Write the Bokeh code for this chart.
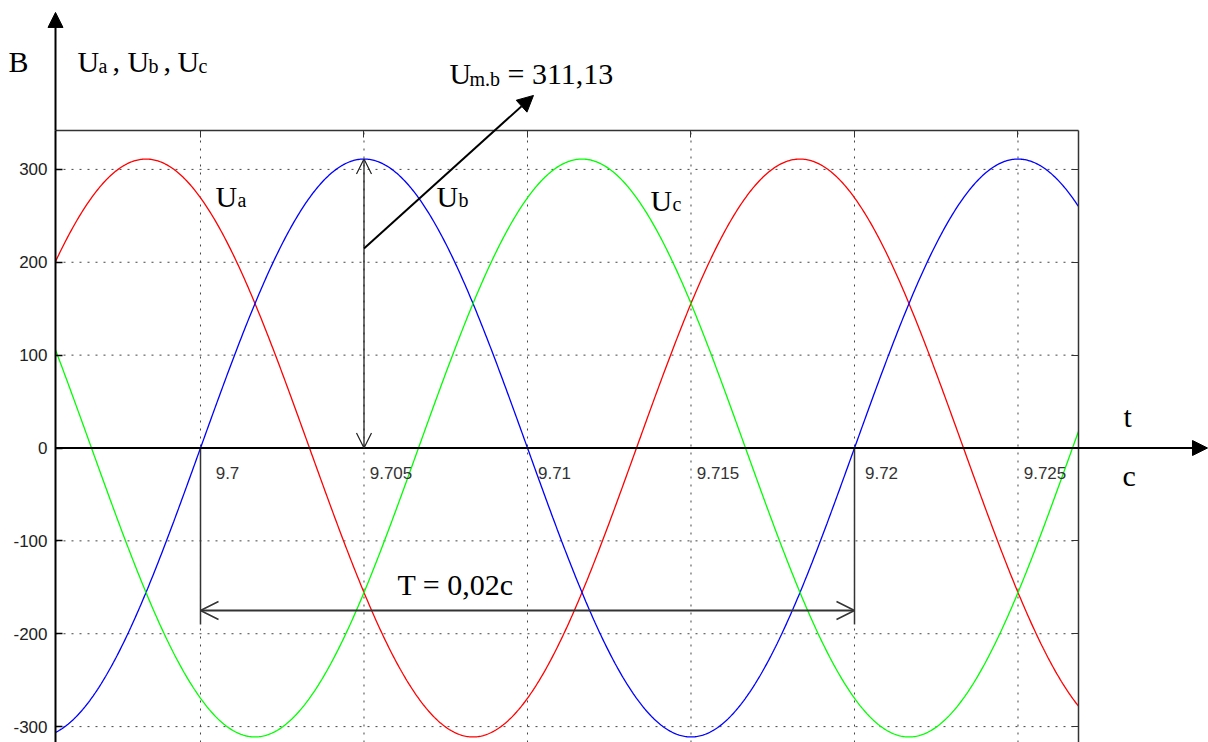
import numpy as np
from bokeh.plotting import figure
from bokeh.models import (Range1d, LinearAxis, FixedTicker, Arrow,
                          NormalHead, OpenHead, Label)
from bokeh.core.properties import value
from bokeh.embed import file_html
from bokeh.resources import INLINE

# Three-phase supply voltages
phase_names = ["Ua", "Ub", "Uc"]
phase_shift_deg = [120, 0, -120]
phase_colors = ["#ff0000", "#0000ff", "#00ff00"]
amplitude = 311.13      # V, peak of each phase
period = 0.02           # s
t_zero = 9.7            # upward zero crossing of Ub

t_ticks = [9.7, 9.705, 9.71, 9.715, 9.72, 9.725]
t_tick_labels = ["9.7", "9.705", "9.71", "9.715", "9.72", "9.725"]
u_ticks = [-300, -200, -100, 0, 100, 200, 300]
u_tick_labels = ["-300", "-200", "-100", "0", "100", "200", "300"]

# plotted box and the whole drawing area around it
t_start, t_end = 9.695566, 9.72685
u_low, u_high = -317.11, 341.9
view_t = (9.6938838, 9.7308257)
view_u = (-317.11, 481.86)

SERIF = "Liberation Serif"
SANS = "Liberation Sans"
GRID = "#444444"
EDGE = "#333333"

p = figure(width=1208, height=742, x_range=Range1d(*view_t),
           y_range=Range1d(*view_u), output_backend="svg",
           toolbar_location=None, x_axis_type=None, y_axis_type=None,
           min_border=0)
p.outline_line_color = None
p.background_fill_color = "white"
p.border_fill_color = "white"

# dotted grid inside the box
p.segment(x0=t_ticks, y0=[u_low] * len(t_ticks), x1=t_ticks, y1=[u_high] * len(t_ticks),
          line_color=GRID, line_dash="2 6", line_width=1)
p.segment(x0=[t_start] * len(u_ticks), y0=u_ticks, x1=[t_end] * len(u_ticks), y1=u_ticks,
          line_color=GRID, line_dash="2 6", line_width=1)

# voltage axis
yaxis = LinearAxis(ticker=FixedTicker(ticks=u_ticks), fixed_location=t_start,
                   bounds=(u_low, u_high),
                   major_label_overrides=dict(zip(u_ticks, u_tick_labels)),
                   axis_line_color="black", axis_line_width=2,
                   major_tick_in=7, major_tick_out=0,
                   major_tick_line_color="black", major_tick_line_width=1.5,
                   minor_tick_line_color=None, major_label_standoff=8,
                   major_label_text_font=SANS, major_label_text_font_size="17px",
                   major_label_text_color="#222222")
p.add_layout(yaxis, "left")

# top and right edges of the box, ticks pointing inwards
top_axis = LinearAxis(ticker=FixedTicker(ticks=t_ticks), fixed_location=u_high,
                      bounds=(t_start, t_end), axis_line_color=EDGE,
                      axis_line_width=1.5, major_tick_in=7, major_tick_out=0,
                      major_tick_line_color=EDGE, minor_tick_line_color=None,
                      major_label_text_color=None, major_label_text_font_size="1px")
p.add_layout(top_axis, "above")
right_axis = LinearAxis(ticker=FixedTicker(ticks=u_ticks), fixed_location=t_end,
                        bounds=(u_low, u_high), axis_line_color=EDGE,
                        axis_line_width=1.5, major_tick_in=7, major_tick_out=0,
                        major_tick_line_color=EDGE, minor_tick_line_color=None,
                        major_label_text_color=None, major_label_text_font_size="1px")
p.add_layout(right_axis, "right")

# phase voltage curves
t = np.linspace(t_start, t_end, 900)
for name, shift, color in zip(phase_names, phase_shift_deg, phase_colors):
    u = amplitude * np.sin(2 * np.pi * (t - t_zero) / period + np.radians(shift))
    p.line(t, u, line_color=color, line_width=1.3)

# time tick labels sitting under the zero line
p.text(x=t_ticks, y=[0] * len(t_ticks), text=t_tick_labels,
       text_font=value(SANS), text_font_size="17px", text_color="#333333",
       text_align="center", text_baseline="alphabetic", x_offset=27, y_offset=25)

# axis arrows
black_head = dict(fill_color="black", line_color="black")
p.add_layout(Arrow(x_start=t_start, y_start=u_high, x_end=t_start, y_end=469.0,
                   line_color="black", line_width=2,
                   end=NormalHead(size=15, **black_head)))
p.add_layout(Arrow(x_start=t_start, y_start=0, x_end=9.730795, y_end=0,
                   line_color="black", line_width=2,
                   end=NormalHead(size=15, **black_head)))

# period markers and dimension arrow
t_period_start, t_period_end = t_zero, t_zero + period
p.segment(x0=[t_period_start, t_period_end], y0=[0, 0],
          x1=[t_period_start, t_period_end], y1=[-190, -190],
          line_color=EDGE, line_width=1.5)
p.add_layout(Arrow(x_start=t_period_start, y_start=-175, x_end=t_period_end, y_end=-175,
                   line_color=EDGE, line_width=2,
                   start=OpenHead(size=18, line_color=EDGE, line_width=1.5),
                   end=OpenHead(size=18, line_color=EDGE, line_width=1.5)))

# amplitude of Ub
t_peak_b = t_zero + period / 4
p.add_layout(Arrow(x_start=t_peak_b, y_start=0, x_end=t_peak_b, y_end=amplitude,
                   line_color="#222222", line_width=1.3,
                   start=OpenHead(size=15, line_color="#222222", line_width=1.2),
                   end=OpenHead(size=15, line_color="#222222", line_width=1.2)))
p.add_layout(Arrow(x_start=t_peak_b, y_start=214.8, x_end=9.710183, y_end=379.6,
                   line_color="black", line_width=2,
                   end=NormalHead(size=16, **black_head)))


def put(text, x, y, dx=0, dy=0, size="30px"):
    p.add_layout(Label(x=x, y=y, x_offset=dx, y_offset=dy, text=text,
                       text_font=SERIF, text_font_size=size, text_color="black",
                       text_baseline="alphabetic", text_align="left"))


SUB = "20px"

# unit and quantity names of the vertical axis
put("B", 9.694128, 416.2)
hx, hy = 9.696239, 416.2
put("U", hx, hy)
put("a", hx, hy, dx=21, dy=-5, size=SUB)
put(",", hx, hy, dx=35)
put("U", hx, hy, dx=50)
put("b", hx, hy, dx=71, dy=-5, size=SUB)
put(",", hx, hy, dx=86)
put("U", hx, hy, dx=100)
put("c", hx, hy, dx=121, dy=-5, size=SUB)

# curve names
for (sx, sy), letter in zip([(9.700459, 270.9), (9.707217, 270.9), (9.713760, 266.9)],
                            ["a", "b", "c"]):
    put("U", sx, sy)
    put(letter, sx, sy, dx=22, dy=-4, size=SUB)

# amplitude label
ux, uy = 9.707615, 403.2
put("U", ux, uy)
put("m.b", ux, uy, dx=20, dy=-5, size=SUB)
put("= 311,13", ux, uy, dx=58)

# period label
put("T = 0,02c", 9.706024, -147.0)

# time axis name and unit
put("t", 9.728226, 33.9)
put("c", 9.728196, -29.6)

open("out.html", "w").write(file_html(p, INLINE))
